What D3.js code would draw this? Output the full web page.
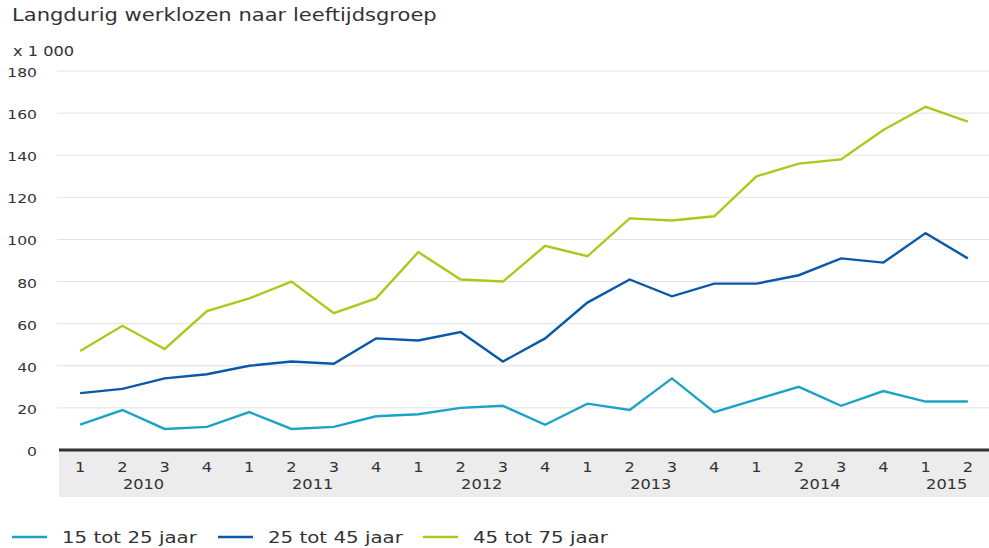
<!DOCTYPE html>
<html>
<head>
<meta charset="utf-8">
<script src="https://cdn.jsdelivr.net/npm/d3@7"></script>
<style>
  body { margin: 0; background: #fff; }
  text { font-family: "DejaVu Sans", sans-serif; fill: #333; }
</style>
</head>
<body>
<div id="chart"></div>
<script>
(function () {

  // data (x 1 000)
  var years = ["2010", "2011", "2012", "2013", "2014", "2015"];
  var quarters = [1, 2, 3, 4, 1, 2, 3, 4, 1, 2, 3, 4, 1, 2, 3, 4, 1, 2, 3, 4, 1, 2];
  var quarterYear = [0, 0, 0, 0, 1, 1, 1, 1, 2, 2, 2, 2, 3, 3, 3, 3, 4, 4, 4, 4, 5, 5];
  var seriesNames = ["15 tot 25 jaar", "25 tot 45 jaar", "45 tot 75 jaar"];
  var young = [12, 19, 10, 11, 18, 10, 11, 16, 17, 20, 21, 12, 22, 19, 34, 18, 24, 30, 21, 28, 23, 23];
  var middle = [27, 29, 34, 36, 40, 42, 41, 53, 52, 56, 42, 53, 70, 81, 73, 79, 79, 83, 91, 89, 103, 91];
  var older = [47, 59, 48, 66, 72, 80, 65, 72, 94, 81, 80, 97, 92, 110, 109, 111, 130, 136, 138, 152, 163, 156];
  var yTicks = [0, 20, 40, 60, 80, 100, 120, 140, 160, 180];
  var colors = ["#1ba3c6", "#0a58a8", "#afc71d"];

  var width = 989,
      height = 548;

  // the original texts are a bit stretched sideways
  var stretch = 1.2;

  var svg = d3.select("#chart")
    .append("svg")
    .attr("width", width)
    .attr("height", height);

  // place a text at (x,y) with the sideways stretch
  function place(sel, fx, fy) {
    sel.attr("transform", function (d, i) {
      return "translate(" + fx(d, i) + "," + fy(d, i) + ") scale(" + stretch + ",1)";
    });
    return sel;
  }

  var idx = d3.range(quarters.length);

  var x = d3.scaleBand().domain(idx).range([59, 989]);
  var y = d3.scaleLinear().domain([0, 180]).range([450, 71]);

  // title
  svg.append("text")
    .attr("transform", "translate(12,21) scale(1.24,1)")
    .style("font-size", "17px")
    .text("Langdurig werklozen naar leeftijdsgroep");

  svg.append("text")
    .attr("transform", "translate(13,56) scale(" + stretch + ",1)")
    .style("font-size", "13.5px")
    .text("x 1 000");

  // gridlines
  svg.selectAll(".grid")
    .data(yTicks.filter(function (d) { return d > 0; }))
    .enter().append("line")
    .attr("class", "grid")
    .attr("x1", 57).attr("x2", width)
    .attr("y1", function (d) { return y(d); })
    .attr("y2", function (d) { return y(d); })
    .attr("stroke", "#e2e2e2")
    .attr("stroke-width", 1);

  // y tick labels
  place(svg.selectAll(".ylab")
    .data(yTicks)
    .enter().append("text")
    .attr("class", "ylab")
    .attr("text-anchor", "end")
    .style("font-size", "13px")
    .text(function (d) { return d; }),
    function () { return 37; },
    function (d) { return y(d) + 6; });

  // grey band under the axis
  svg.append("rect")
    .attr("x", 59).attr("y", 451)
    .attr("width", width - 59).attr("height", 46)
    .attr("fill", "#ececec");

  // axis line
  svg.append("line")
    .attr("x1", 59).attr("x2", width)
    .attr("y1", 450).attr("y2", 450)
    .attr("stroke", "#333")
    .attr("stroke-width", 3);

  // quarter labels
  place(svg.selectAll(".qlab")
    .data(idx)
    .enter().append("text")
    .attr("class", "qlab")
    .attr("text-anchor", "middle")
    .style("font-size", "13.5px")
    .text(function (d) { return quarters[d]; }),
    function (d) { return x(d) + x.bandwidth() / 2; },
    function () { return 472; });

  // year labels, centred on their quarters
  place(svg.selectAll(".ylabel")
    .data(years)
    .enter().append("text")
    .attr("class", "ylabel")
    .attr("text-anchor", "middle")
    .style("font-size", "13.5px")
    .text(function (d) { return d; }),
    function (d, i) {
      var q = idx.filter(function (k) { return quarterYear[k] === i; });
      return d3.mean(q, function (k) { return x(k) + x.bandwidth() / 2; });
    },
    function () { return 489; });

  // lines
  var line = d3.line()
    .x(function (d, i) { return x(i) + x.bandwidth() / 2; })
    .y(function (d) { return y(d); });

  var allSeries = [young, middle, older];

  svg.selectAll(".series")
    .data(allSeries)
    .enter().append("path")
    .attr("class", "series")
    .attr("d", line)
    .attr("fill", "none")
    .attr("stroke", function (d, i) { return colors[i]; })
    .attr("stroke-width", 2.4)
    .attr("stroke-linejoin", "miter");

  // legend
  var legendX = [12, 218, 423];
  var legend = svg.selectAll(".legend")
    .data(seriesNames)
    .enter().append("g")
    .attr("class", "legend")
    .attr("transform", function (d, i) { return "translate(" + legendX[i] + ",537)"; });

  legend.append("line")
    .attr("x1", 0).attr("x2", 35)
    .attr("y1", 0).attr("y2", 0)
    .attr("stroke", function (d, i) { return colors[i]; })
    .attr("stroke-width", 2.4);

  legend.append("text")
    .attr("transform", "translate(50,6) scale(1.2,1)")
    .style("font-size", "16.5px")
    .text(function (d) { return d; });

})()
</script>
</body>
</html>
